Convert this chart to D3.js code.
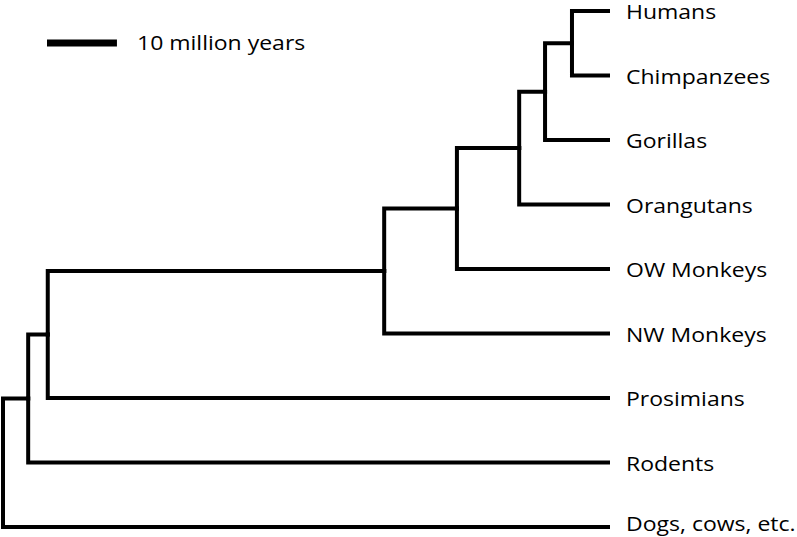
<!DOCTYPE html>
<html>
<head>
<meta charset="utf-8">
<script src="https://cdn.jsdelivr.net/npm/d3@7"></script>
<style>
html,body{margin:0;padding:0;background:#fff;}
svg{display:block;}
text{font-family:"Open Sans", Lato, sans-serif;fill:#000;}
</style>
</head>
<body>
<svg id="chart" width="797" height="537"></svg>
<script>
// Tree nodes (internal clades first, then leaves in top-to-bottom order)
const nodeIds     = ["root","n_rod","n_prim","n_anth","n_cat","n_hom","n_hmn","n_hc",
                     "Humans","Chimpanzees","Gorillas","Orangutans","OW Monkeys","NW Monkeys","Prosimians","Rodents","Dogs, cows, etc."];
const nodeParents = ["","root","n_rod","n_prim","n_anth","n_cat","n_hom","n_hmn",
                     "n_hc","n_hc","n_hmn","n_hom","n_cat","n_anth","n_prim","n_rod","root"];
// divergence time in million years ago (leaves = 0)
const nodeAges    = [86.5, 82.9, 80.1, 32.0, 21.6, 12.7, 9.0, 5.15,
                     0, 0, 0, 0, 0, 0, 0, 0, 0];
const leafOrder = ["Humans","Chimpanzees","Gorillas","Orangutans","OW Monkeys","NW Monkeys","Prosimians","Rodents","Dogs, cows, etc."];
const scaleBarMY = 10;
const scaleBarLabel = "10 million years";

const W = 797, H = 537;
const FONT = 20, SX = 1.15;
const svg = d3.select("#chart");

const table = nodeIds.map((id, i) => ({id, parent: nodeParents[i] || null, age: nodeAges[i]}));
const root = d3.stratify().id(d => d.id).parentId(d => d.parent)(table);

const x = d3.scaleLinear().domain([d3.max(nodeAges), 0]).range([3, 608]);
const y = d3.scalePoint().domain(leafOrder).range([11, 527]);

// position nodes
root.eachAfter(n => {
  n.px = x(n.data.age);
  if (n.children) {
    n.py = (n.children[0].py + n.children[n.children.length - 1].py) / 2;
  } else {
    n.py = y(n.id);
  }
});

const g = svg.append("g");
g.selectAll("path.link")
  .data(root.descendants().filter(d => d.parent))
  .join("path")
  .attr("class", "link")
  .attr("fill", "none")
  .attr("stroke", "#000")
  .attr("stroke-width", 4)
  .attr("stroke-linecap", "square")
  .attr("stroke-linejoin", "miter")
  .attr("d", d => `M${d.parent.px},${d.parent.py}V${d.py}H${d.px}`);

const baseline = py => Math.min(Math.max(py + 8, 18), H - 6);

g.selectAll("text.leaf")
  .data(root.leaves())
  .join("text")
  .attr("class", "leaf")
  .attr("transform", d => `translate(${d.px + 18},${baseline(d.py)}) scale(${SX},1)`)
  .attr("font-size", FONT)
  .text(d => d.id);

// scale bar
const barX0 = 47, barY = 43;
const barLen = x(0) - x(scaleBarMY);
svg.append("line")
  .attr("x1", barX0).attr("x2", barX0 + barLen)
  .attr("y1", barY).attr("y2", barY)
  .attr("stroke", "#000").attr("stroke-width", 7);
svg.append("text")
  .attr("transform", `translate(137,${barY + 7}) scale(${SX},1)`)
  .attr("font-size", FONT)
  .text(scaleBarLabel);
</script>
</body>
</html>
